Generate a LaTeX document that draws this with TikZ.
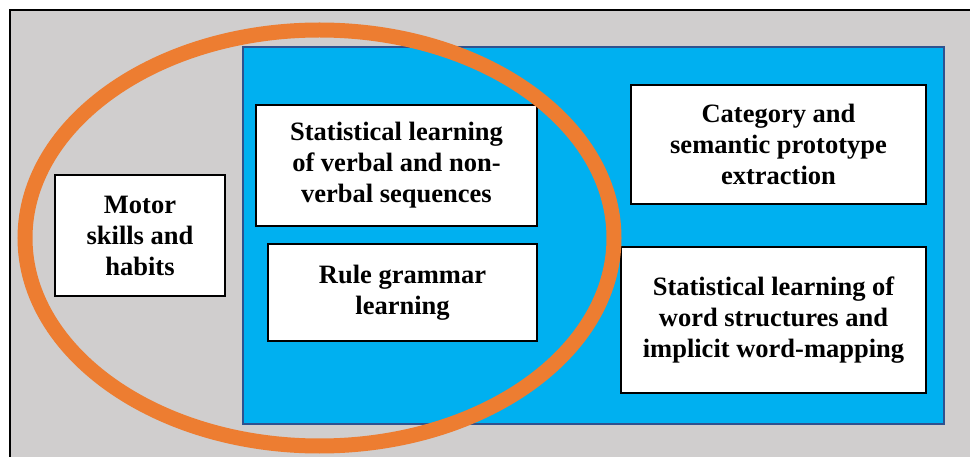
\documentclass[tikz,border=0pt]{standalone}
\usepackage{fontspec}
\setmainfont{Liberation Serif}
\definecolor{bggray}{RGB}{208,206,206}
\definecolor{skyblue}{RGB}{0,176,240}
\definecolor{darkblue}{RGB}{47,82,143}
\definecolor{orangeline}{RGB}{237,125,49}
\tikzset{
  txtbox/.style={draw=black, line width=2.2pt, fill=white, align=center,
    font=\fontsize{26.5}{31}\selectfont\bfseries, inner sep=0pt},
}
\begin{document}
\begin{tikzpicture}[x=1pt,y=-1pt]
\useasboundingbox (0,0) rectangle (970,457);
% outer gray panel
\fill[white] (0,0) rectangle (970,457);
\draw[fill=bggray, draw=black, line width=2pt] (10,10) rectangle (990,480);
% blue panel
\draw[fill=skyblue, draw=darkblue, line width=1.6pt] (243,47) rectangle (944,424);
% boxes
\node[txtbox, minimum width=281pt, minimum height=121pt] (stat) at (396.5,165.5)
  {Statistical learning\\of verbal and non-\\verbal sequences};
\node[txtbox, minimum width=269pt, minimum height=97pt] (rule) at (402.5,292.5)
  {Rule grammar\\learning};
\node[txtbox, minimum width=295pt, minimum height=119pt] (cat) at (778.5,144.5)
  {Category and\\semantic prototype\\extraction};
\node[txtbox, minimum width=305pt, minimum height=146pt] (word) at (773.5,320)
  {Statistical learning of\\word structures and\\implicit word-mapping};
\node[txtbox, minimum width=170pt, minimum height=121pt] (motor) at (140,235.5)
  {Motor\\skills and\\habits};
% orange ellipse
\draw[orangeline, line width=15pt] (319.5,238) ellipse [x radius=294.5, y radius=208];
\end{tikzpicture}
\end{document}
